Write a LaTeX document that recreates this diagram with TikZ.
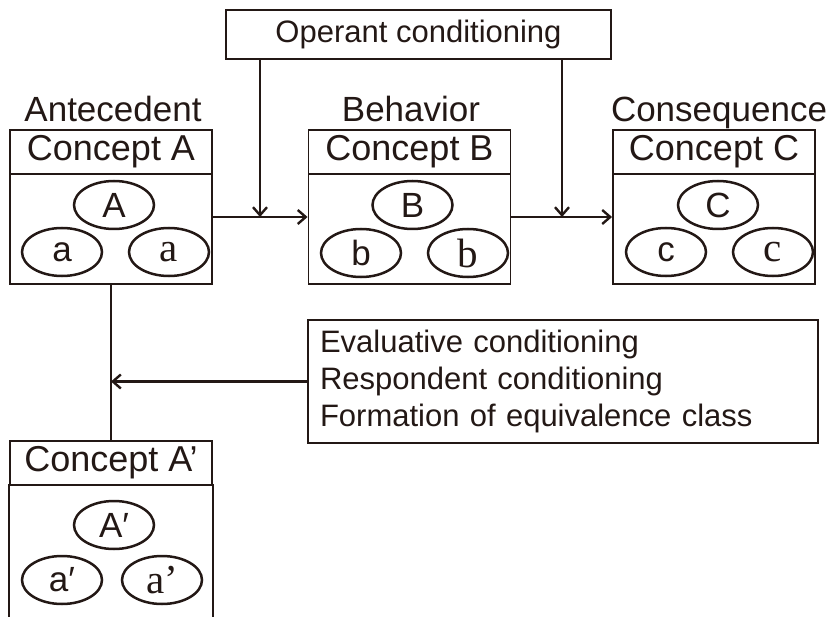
\documentclass[tikz,border=0pt]{standalone}
\usepackage{fontspec}
\setmainfont{Liberation Sans}
\newfontfamily\serifa{Liberation Serif}
\usetikzlibrary{arrows.meta,shapes.geometric}
\definecolor{ink}{RGB}{35,24,21}
\begin{document}
\begin{tikzpicture}[x=1pt,y=-1pt,
  box/.style={draw=ink,line width=1.9pt,rectangle,inner sep=0pt,minimum width=202pt,text=ink},
  hdr/.style={box,minimum height=44pt,font=\fontsize{36}{40}\selectfont},
  body/.style={box,minimum height=110pt},
  oval/.style={draw=ink,line width=2.5pt,ellipse,minimum width=80pt,minimum height=48pt,inner sep=0pt,text=ink,font=\fontsize{35}{38}\selectfont},
  soval/.style={oval,font=\serifa\fontsize{41}{42}\selectfont},
  lab/.style={inner sep=0pt,text=ink,font=\fontsize{35}{40}\selectfont,anchor=base},
  link/.style={draw=ink,line width=2.6pt},
  arr/.style={link,-{Straight Barb[length=8pt,width=14pt,line width=2.4pt]}}]
\clip (0,0) rectangle (826,617);
% labels
\node[lab] (ant) at (113,122) {Antecedent};
\node[lab] (beh) at (411,122) {Behavior};
\node[lab] (con) at (719,122) {Consequence};
% operant
\node[box,minimum width=385pt,minimum height=49pt,font=\fontsize{31}{36}\selectfont] (oper) at (418.5,34.5) {Operant conditioning};
% concept A
\node[hdr] (hA) at (111,152) {Concept A};
\node[body] (bA) at (111,229) {};
\node[oval] (eA) at (114,205) {A};
\node[oval] (eA1) at (62,252) {a};
\node[soval] (eA2) at (169,252) {a};
% concept B
\node[hdr] (hB) at (409.5,152) {Concept B};
\node[body] (bB) at (409.5,229) {};
\node[oval] (eB) at (412.5,205) {B};
\node[oval] (eB1) at (361,253) {b};
\node[soval] (eB2) at (468,253) {b};
% concept C
\node[hdr] (hC) at (714,152) {Concept C};
\node[body] (bC) at (714,229) {};
\node[oval] (eC) at (718,205) {C};
\node[oval] (eC1) at (666,252) {c};
\node[soval] (eC2) at (773,252) {c};
% concept A'
\node[hdr] (hA2) at (111,463) {Concept A’};
\node[body,draw=none] (bA2) at (111,540) {};
\draw[draw=ink,line width=1.9pt] (bA2.north west) -- ++(0,150);
\draw[draw=ink,line width=1.9pt] (bA2.north east) -- ++(0,150);
\node[oval] (eA3) at (114,525) {A′};
\node[oval] (eA4) at (62,580) {a′};
\node[soval] (eA5) at (162,580) {a’};
% evaluative box
\node[box,minimum width=510pt,minimum height=123pt,text width=486pt,inner xsep=12pt,inner ysep=0pt,align=left,font=\fontsize{31}{37}\selectfont] (ev) at (563,381.5) {Evaluative conditioning\\Respondent conditioning\\Formation of equivalence class};
% connectors
\coordinate (j1) at (260,217);
\coordinate (j2) at (562,217);
\draw[arr] ([yshift=12pt]bA.east) -- ([yshift=12pt]bB.west);
\draw[arr] ([yshift=12pt]bB.east) -- ([yshift=12pt]bC.west);
\draw[arr] (oper.south -| j1) -- (j1);
\draw[arr] (oper.south -| j2) -- (j2);
\draw[link] (bA.south) -- (hA2.north);
\draw[arr] (ev.west) -- (ev.west -| bA.south);
\end{tikzpicture}
\end{document}
